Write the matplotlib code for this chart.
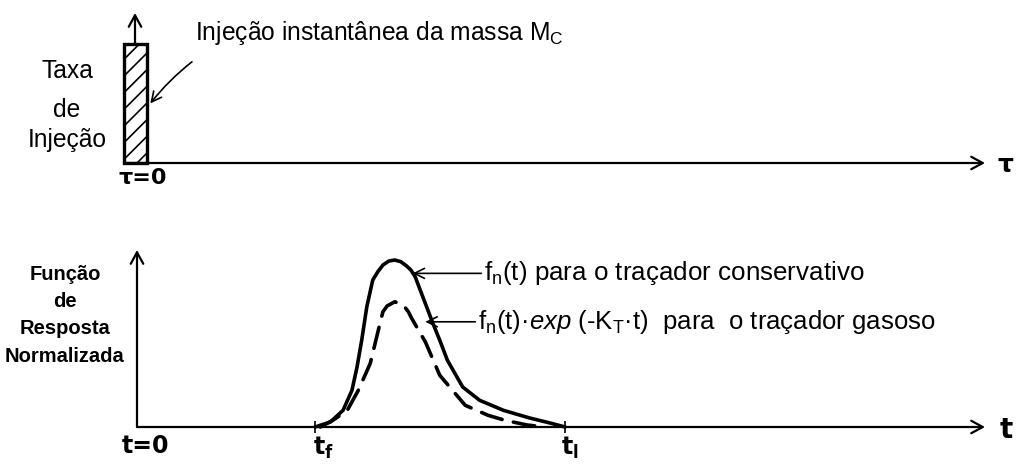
import matplotlib
matplotlib.use("Agg")
import matplotlib.pyplot as plt
import matplotlib.transforms as mtransforms
from matplotlib.patches import Rectangle

plt.rcParams["font.family"] = ["Liberation Sans", "DejaVu Sans"]
plt.rcParams["mathtext.fontset"] = "custom"
plt.rcParams["mathtext.rm"] = "Liberation Sans"
plt.rcParams["mathtext.it"] = "Liberation Sans:italic"
plt.rcParams["mathtext.bf"] = "Liberation Sans:bold"
plt.rcParams["hatch.linewidth"] = 1.2

# instantaneous injection pulse (upper panel)
pulse_start = -1.3
pulse_width = 2.7
pulse_height = 1.0

# normalized response, conservative tracer
t_cons = [21.0, 22.8, 24.3, 25.35, 25.95, 26.5, 27.1, 27.8, 28.4, 29.0,
          29.7, 30.4, 31.1, 31.8, 32.3, 32.8, 33.7, 34.9, 35.7, 36.6,
          38.4, 40.4, 43.2, 46.3, 48.7, 50.5]
f_cons = [0.0, 0.03, 0.10, 0.22, 0.36, 0.52, 0.72, 0.88, 0.93, 0.97,
          0.994, 1.00, 0.99, 0.964, 0.94, 0.90, 0.78, 0.62, 0.52, 0.40,
          0.24, 0.16, 0.10, 0.054, 0.024, 0.0]

# normalized response times exp(-K_T t), gaseous tracer
t_gas = [21.6, 23.1, 24.8, 26.1, 27.5, 28.7, 29.0, 29.5, 30.4, 31.4,
         32.0, 32.4, 34.0, 35.7, 37.2, 38.7, 41.4, 43.4, 46.0, 48.1]
f_gas = [0.0, 0.04, 0.10, 0.22, 0.38, 0.63, 0.69, 0.725, 0.75, 0.73,
         0.69, 0.65, 0.51, 0.31, 0.22, 0.13, 0.07, 0.04, 0.012, 0.0]

t_first = 21.0
t_last = 50.5

W, H = 1016, 468
fig = plt.figure(figsize=(W / 100, H / 100), dpi=100)
# pixel coordinates, origin at top-left
px = mtransforms.Affine2D().scale(1 / W, -1 / H).translate(0, 1) + fig.transFigure

axis_arrow = dict(arrowstyle="->,head_length=0.55,head_width=0.3", lw=1.6,
                  color="black", mutation_scale=15, shrinkA=0, shrinkB=0)
label_arrow = dict(arrowstyle="->,head_length=0.6,head_width=0.3", lw=1.2,
                   color="black", mutation_scale=12, shrinkA=0, shrinkB=0)

# ---- upper panel: injection rate ----
ax1 = fig.add_axes([135 / W, (H - 163) / H, 850 / W, 150 / H])
ax1.set_xlim(0, 100)
ax1.set_ylim(0, 1.26)
ax1.axis("off")

ax1.add_patch(Rectangle((pulse_start, 0), pulse_width, pulse_height,
                        facecolor="white", edgecolor="black", lw=2.4,
                        hatch="//", clip_on=False, zorder=3))
ax1.annotate("", xy=(100, 0), xytext=(pulse_start, 0),
             arrowprops=axis_arrow, annotation_clip=False)
ax1.annotate("", xy=(0, 1.26), xytext=(0, pulse_height),
             arrowprops=axis_arrow, annotation_clip=False)
ax1.annotate("", xy=(pulse_start + pulse_width + 0.4, 0.5 * pulse_height),
             xytext=(6.7, 0.85),
             arrowprops=dict(label_arrow, connectionstyle="arc3,rad=0.06"),
             annotation_clip=False)
ax1.text(7.1, 1.03, "Injeção instantânea da massa M$_\\mathregular{C}$",
         fontsize=17.7, ha="left", va="baseline")
ax1.annotate("τ=0", xy=(0, 0), xytext=(8, -15), textcoords="offset pixels",
             ha="center", va="center", fontsize=16, fontweight="bold",
             family="DejaVu Sans")
ax1.annotate("τ", xy=(100, 0), xytext=(20, -2), textcoords="offset pixels",
             ha="center", va="center", fontsize=18, fontweight="bold",
             family="DejaVu Sans")

for txt, y in [("Taxa", 78), ("de", 117), ("Injeção", 147)]:
    fig.text(67, y, txt, transform=px, ha="center", va="baseline",
             fontsize=17.7)

# ---- lower panel: normalized response ----
ax2 = fig.add_axes([137 / W, (H - 427) / H, 848 / W, 177 / H])
ax2.set_xlim(0, 100)
ax2.set_ylim(0, 1.06)
ax2.axis("off")

ax2.annotate("", xy=(100, 0), xytext=(0, 0),
             arrowprops=axis_arrow, annotation_clip=False)
ax2.annotate("", xy=(0, 1.06), xytext=(0, 0),
             arrowprops=axis_arrow, annotation_clip=False)
ax2.vlines([t_first, t_last], -0.035, 0.035, color="black", lw=1.2,
           clip_on=False)

ax2.plot(t_cons, f_cons, color="black", lw=2.6, solid_capstyle="round",
         solid_joinstyle="round", clip_on=False, zorder=4)
ax2.plot(t_gas, f_gas, color="black", lw=2.6, ls=(0, (6, 3.2)),
         dash_capstyle="round", clip_on=False, zorder=4)

ax2.annotate("", xy=(32.5, 0.92), xytext=(40.6, 0.92),
             arrowprops=label_arrow, annotation_clip=False)
ax2.text(40.9, 0.92, "f$_\\mathregular{n}$(t) para o traçador conservativo",
         fontsize=18.7, ha="left", va="center")
ax2.annotate("", xy=(34.0, 0.63), xytext=(39.9, 0.63),
             arrowprops=label_arrow, annotation_clip=False)
ax2.text(40.2, 0.63,
         "f$_\\mathregular{n}$(t)·$\\mathit{exp}$ (-K$_\\mathregular{T}$·t)  "
         "para  o traçador gasoso",
         fontsize=18.5, ha="left", va="center")

bold = dict(textcoords="offset pixels", ha="center", va="center",
            fontweight="bold", family="DejaVu Sans", math_fontfamily="dejavusans")
ax2.annotate("t=0", xy=(0, 0), xytext=(9, -19), fontsize=17, **bold)
ax2.annotate("$\\mathbf{t_f}$", xy=(t_first, 0), xytext=(8, -21),
             fontsize=17, **bold)
ax2.annotate("$\\mathbf{t_l}$", xy=(t_last, 0), xytext=(5, -21),
             fontsize=17, **bold)
ax2.annotate("t", xy=(100, 0), xytext=(21, -3), fontsize=20, **bold)

for txt, y in [("Função", 280), ("de", 307), ("Resposta", 334),
               ("Normalizada", 362)]:
    fig.text(65, y, txt, transform=px, ha="center", va="baseline",
             fontsize=14.5, fontweight="bold")

fig.savefig("out.png", dpi=100, facecolor="white")
